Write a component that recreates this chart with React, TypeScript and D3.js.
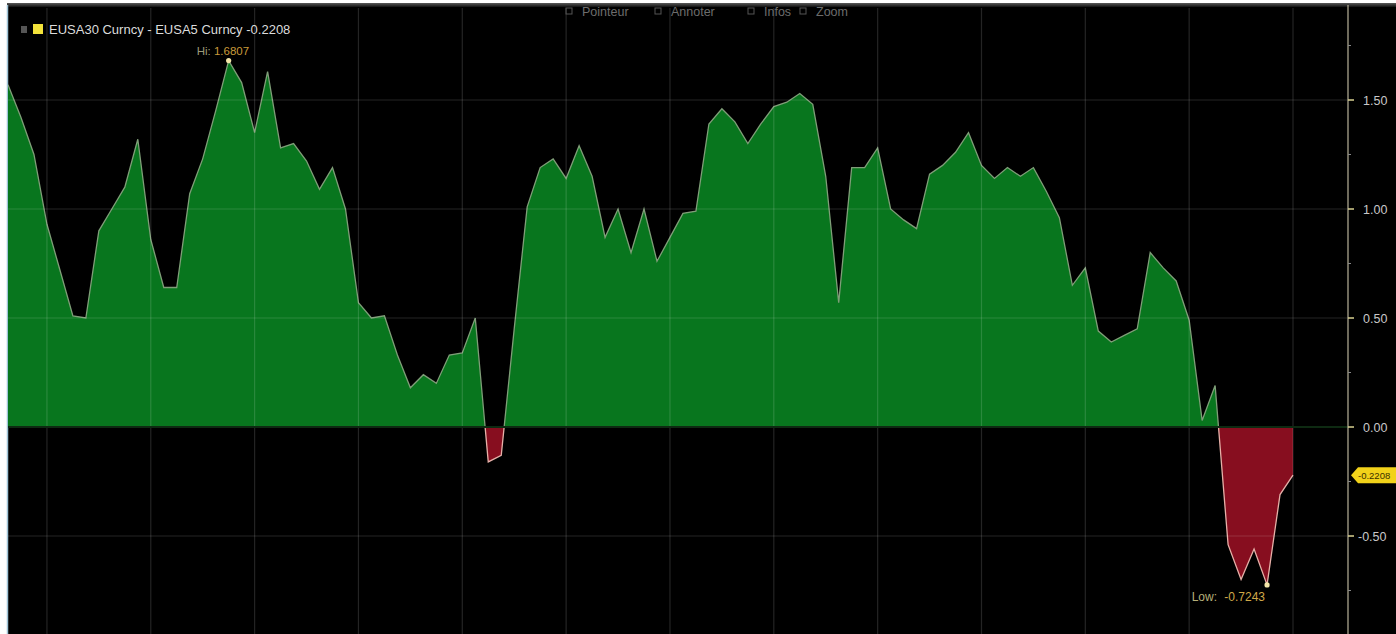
import React from "react";
import * as d3 from "d3";

// Weekly spread EUSA30 - EUSA5
const spread: number[] = [
  1.57, 1.42, 1.25, 0.93, 0.72, 0.51, 0.5, 0.9, 1.0, 1.1,
  1.32, 0.86, 0.64, 0.64, 1.07, 1.23, 1.45, 1.6807, 1.58, 1.35,
  1.63, 1.28, 1.3, 1.22, 1.09, 1.19, 1.0, 0.57, 0.5, 0.51,
  0.33, 0.18, 0.24, 0.2, 0.33, 0.34, 0.5, -0.16, -0.13, 0.45,
  1.01, 1.19, 1.23, 1.14, 1.29, 1.15, 0.87, 1.0, 0.8, 1.0,
  0.76, 0.87, 0.98, 0.99, 1.39, 1.46, 1.4, 1.3, 1.39, 1.47,
  1.49, 1.53, 1.48, 1.15, 0.57, 1.19, 1.19, 1.28, 1.0, 0.95,
  0.91, 1.16, 1.2, 1.26, 1.35, 1.2, 1.14, 1.19, 1.15, 1.19,
  1.08, 0.96, 0.65, 0.73, 0.44, 0.39, 0.42, 0.45, 0.8, 0.73,
  0.67, 0.49, 0.03, 0.19, -0.54, -0.7, -0.56, -0.7243, -0.31, -0.2208,
];
const yMajorTicks = [1.5, 1.0, 0.5, 0.0, -0.5];
const yMinorTicks = [1.75, 1.25, 0.75, 0.25, -0.25, -0.75];
const gridWeeks = d3.range(3, spread.length, 8);
const seriesLabel = "EUSA30 Curncy - EUSA5 Curncy";
const lastValue = -0.2208;
const toolbarItems = ["Pointeur", "Annoter", "Infos", "Zoom"];

const fmt2 = (v: number) => d3.format(".2f")(v).replace("\u2212", "-");
const fmt4 = (v: number) => d3.format(".4f")(v).replace("\u2212", "-");

export default function App() {
  const W = 1396;
  const H = 634;
  const left = 8;
  const top = 5;
  const axisX = 1348;
  const x = d3.scaleLinear().domain([0, spread.length - 1]).range([8, 1293]);
  const y = d3.scaleLinear().domain([0, 1.5]).range([427, 100]);
  const y0 = y(0);

  const area = d3
    .area<number>()
    .x((_, i) => x(i))
    .y0(y0)
    .y1((d) => y(d));
  const line = d3
    .line<number>()
    .x((_, i) => x(i))
    .y((d) => y(d));

  const hiIdx = d3.maxIndex(spread);
  const loIdx = d3.minIndex(spread);
  const font = "'Liberation Sans', Arial, sans-serif";
  const toolbarX = [566, 655, 748, 800];

  return (
    <svg
      width={W}
      height={H}
      style={{ position: "absolute", left: 0, top: 0, background: "#fff" }}
      fontFamily={font}
    >
      <defs>
        <clipPath id="pos">
          <rect x={left} y={0} width={axisX - left} height={y0 - 0} />
        </clipPath>
        <clipPath id="neg">
          <rect x={left} y={y0} width={axisX - left} height={H - y0} />
        </clipPath>
        <linearGradient id="bar" x1="0" x2="0" y1="0" y2="1">
          <stop offset="0" stopColor="#5a5a5a" />
          <stop offset="1" stopColor="#111" />
        </linearGradient>
      </defs>
      <rect x={7} y={3} width={W - 7} height={H - 3} fill="#000" />
      <rect x={7} y={3} width={W - 7} height={4} fill="url(#bar)" />
      <line x1={7.5} x2={7.5} y1={5} y2={H} stroke="#9fc4d8" strokeWidth={1.5} />

      {/* areas */}
      <path d={area(spread) ?? ""} fill="#08761e" clipPath="url(#pos)" />
      <path d={area(spread) ?? ""} fill="#870e1f" clipPath="url(#neg)" />
      <path
        d={line(spread) ?? ""}
        fill="none"
        stroke="#7f9e78"
        strokeWidth={1.3}
        clipPath="url(#pos)"
      />
      <path
        d={line(spread) ?? ""}
        fill="none"
        stroke="#e6b0a8"
        strokeWidth={1.3}
        clipPath="url(#neg)"
      />

      {/* grid */}
      {gridWeeks.map((w) => (
        <line
          key={"v" + w}
          x1={x(w)}
          x2={x(w)}
          y1={top + 3}
          y2={H}
          stroke="rgba(255,255,255,0.14)"
          strokeWidth={1.2}
        />
      ))}
      {yMajorTicks
        .filter((t) => t !== 0)
        .map((t) => (
          <line
            key={"h" + t}
            x1={left}
            x2={axisX}
            y1={y(t)}
            y2={y(t)}
            stroke="rgba(255,255,255,0.14)"
            strokeWidth={1.2}
          />
        ))}
      <line x1={left} x2={axisX} y1={y0} y2={y0} stroke="#0e2a12" strokeWidth={2} />

      {/* right axis */}
      <line x1={axisX} x2={axisX} y1={top} y2={H} stroke="#b9b39a" strokeWidth={1.2} />
      {yMajorTicks.map((t) => (
        <g key={"t" + t}>
          <line x1={axisX} x2={axisX + 6} y1={y(t)} y2={y(t)} stroke="#d8d090" strokeWidth={1.5} />
          <text x={t < 0 ? axisX + 10 : axisX + 15} y={y(t) + 4.5} fill="#c8c8c8" fontSize={12.5}>
            {fmt2(t)}
          </text>
        </g>
      ))}
      {yMinorTicks.map((t) => (
        <line key={"m" + t} x1={axisX} x2={axisX + 3} y1={y(t)} y2={y(t)} stroke="#888" />
      ))}
      {/* last value tag */}
      <g transform={`translate(${axisX + 3},${y(lastValue)})`}>
        <path d="M0,0 L7,-8 L60,-8 L60,8 L7,8 Z" fill="#f2d21a" />
        <text x={7} y={3.5} fontSize={9.5} fill="#3a3000">
          {fmt4(lastValue)}
        </text>
      </g>

      {/* hi / low markers */}
      <circle cx={x(hiIdx)} cy={y(spread[hiIdx])} r={2.6} fill="#f4e6a8" />
      <text x={x(hiIdx) - 32} y={y(spread[hiIdx]) - 6} fontSize={11.5} fill="#9a9a7a">
        Hi: <tspan fill="#c99a3a">{fmt4(spread[hiIdx])}</tspan>
      </text>
      <circle cx={x(loIdx)} cy={y(spread[loIdx])} r={2.6} fill="#f4e6a8" />
      <text
        x={x(loIdx) - 2}
        y={y(spread[loIdx]) + 16}
        fontSize={12}
        fill="#b6b07a"
        textAnchor="end"
        wordSpacing={4}
      >
        Low: <tspan fill="#d0a848">{fmt4(spread[loIdx])}</tspan>
      </text>

      {/* legend */}
      <rect x={21} y={26} width={6} height={7} fill="#555" />
      <rect x={33} y={24} width={10} height={10} fill="#f2e23a" />
      <text x={49} y={34} fontSize={13} fill="#dcdcdc">
        {seriesLabel} {fmt4(lastValue)}
      </text>

      {/* toolbar */}
      {toolbarItems.map((item, i) => (
        <g key={item}>
          <rect x={toolbarX[i]} y={8} width={6} height={6} fill="none" stroke="#555" />
          <text x={toolbarX[i] + 16} y={16} fontSize={12.5} fill="#6c6c6c">
            {item}
          </text>
        </g>
      ))}
    </svg>
  );
}
